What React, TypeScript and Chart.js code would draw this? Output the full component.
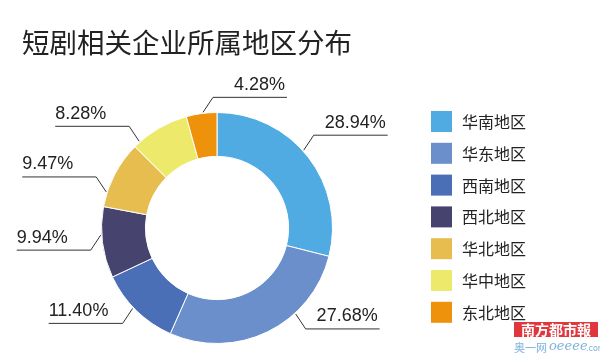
import React, { useEffect, useRef } from "react";
import { Chart, registerables } from "chart.js";

Chart.register(...registerables);

const title = "短剧相关企业所属地区分布";
const regions = ["华南地区", "华东地区", "西南地区", "西北地区", "华北地区", "华中地区", "东北地区"];
const shares = [28.94, 27.68, 11.4, 9.94, 9.47, 8.28, 4.28];
const colors = ["#4FABE1", "#6B8FCA", "#4A6FB7", "#46446F", "#E6BD4E", "#EDEA6B", "#EE920B"];
const watermarkTop = "南方都市報";
const watermarkBottom = "奥一网";
const watermarkSite = "oeeee";
const watermarkTld = ".com";

// layout: angular nudge (degrees) of each leader line's anchor, as in the original design
const leaderNudgeDeg = [-4, -16.5, 2, 3.7, -9.7, -11.6, 0.8];

const decorPlugin = {
  id: "decor",
  afterDatasetsDraw(chart: any) {
    const ctx = chart.ctx as CanvasRenderingContext2D;
    const meta = chart.getDatasetMeta(0);
    ctx.save();
    ctx.strokeStyle = "#333";
    ctx.lineWidth = 1;
    ctx.fillStyle = "#222";
    ctx.font = "18px 'Liberation Sans', Arial, sans-serif";
    ctx.textBaseline = "alphabetic";
    meta.data.forEach((arc: any, i: number) => {
      const p = arc.getProps(["x", "y", "startAngle", "endAngle", "outerRadius"], true);
      const mid = (p.startAngle + p.endAngle) / 2 + ((leaderNudgeDeg[i] || 0) * Math.PI) / 180;
      const sx = p.x + Math.cos(mid) * (p.outerRadius + 1);
      const sy = p.y + Math.sin(mid) * (p.outerRadius + 1);
      const side = sx >= p.x - 20 ? 1 : -1;
      const vy = Math.sin(mid) >= 0 ? 1 : -1;
      const ex = sx + side * 10;
      const ey = sy + vy * 15;
      const fx = ex + side * 74;
      ctx.beginPath();
      ctx.moveTo(sx, sy);
      ctx.lineTo(ex, ey);
      ctx.lineTo(fx, ey);
      ctx.stroke();
      const label = shares[i].toFixed(2) + "%";
      if (side > 0) {
        ctx.textAlign = "right";
        ctx.fillText(label, fx - 2, ey - 7.5);
      } else {
        ctx.textAlign = "left";
        ctx.fillText(label, fx, ey - 7.5);
      }
    });
    ctx.restore();
  },
  afterDraw(chart: any) {
    const ctx = chart.ctx as CanvasRenderingContext2D;
    ctx.save();
    ctx.fillStyle = "#222";
    ctx.font = "27.5px 'Noto Sans CJK SC', sans-serif";
    ctx.textAlign = "left";
    ctx.textBaseline = "alphabetic";
    ctx.fillText(title, 22, 53);
    ctx.font = "16px 'Noto Sans CJK SC', sans-serif";
    ctx.textBaseline = "middle";
    regions.forEach((r, i) => {
      const y = 111 + i * 31.8;
      ctx.fillStyle = colors[i];
      ctx.fillRect(431, y, 21, 21);
      ctx.fillStyle = "#222";
      ctx.fillText(r, 462, y + 11);
    });
    ctx.fillStyle = "#E0363E";
    ctx.fillRect(514, 322, 84, 15);
    ctx.fillStyle = "#fff";
    ctx.font = "bold 14px 'Noto Sans CJK SC', sans-serif";
    ctx.textAlign = "center";
    ctx.fillText(watermarkTop, 556, 330);
    ctx.fillStyle = "#7FB2DA";
    ctx.textAlign = "left";
    ctx.font = "11px 'Noto Sans CJK SC', sans-serif";
    ctx.fillText(watermarkBottom, 514, 348);
    ctx.font = "italic 13px 'DejaVu Serif', serif";
    ctx.fillText(watermarkSite, 549, 347);
    ctx.font = "8px 'DejaVu Sans', sans-serif";
    ctx.fillText(watermarkTld, 586, 349);
    ctx.restore();
  },
};

export default function App() {
  const ref = useRef<HTMLCanvasElement | null>(null);
  useEffect(() => {
    if (!ref.current) return;
    const chart = new Chart(ref.current, {
      type: "doughnut",
      data: {
        labels: regions,
        datasets: [
          {
            data: shares,
            backgroundColor: colors,
            borderColor: "#ffffff",
            borderWidth: 1,
          },
        ],
      },
      options: {
        animation: false,
        responsive: true,
        maintainAspectRatio: false,
        cutout: "62%",
        layout: { padding: { left: 101, right: 267, top: 112, bottom: 14 } },
        plugins: {
          legend: { display: false },
          tooltip: { enabled: false },
          title: { display: false },
        },
      },
      plugins: [decorPlugin],
    });
    return () => chart.destroy();
  }, []);
  return (
    <div style={{ position: "fixed", left: 0, top: 0, width: 600, height: 358, background: "#fff" }}>
      <canvas ref={ref} />
    </div>
  );
}
